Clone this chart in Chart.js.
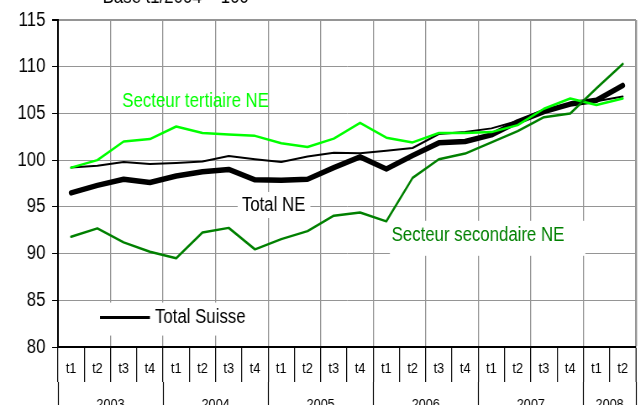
<!DOCTYPE html>
<html>
<head>
<meta charset="utf-8">
<script src="https://cdn.jsdelivr.net/npm/chart.js@4.4.0/dist/chart.umd.min.js"></script>
<style>
  html, body { margin: 0; padding: 0; background: #fff; overflow: hidden; }
  /* the original picture is squeezed horizontally, so draw wider and squeeze it back */
  #wrap { width: 767px; height: 405px; transform: scaleX(0.84); transform-origin: 0 0; }
</style>
</head>
<body>
<div id="wrap"><canvas id="emploiChart" width="767" height="405"></canvas></div>
<script>
// Quarters 2003 t1 .. 2008 t2
const quarters = ['t1', 't2', 't3', 't4', 't1', 't2', 't3', 't4', 't1', 't2', 't3', 't4',
                  't1', 't2', 't3', 't4', 't1', 't2', 't3', 't4', 't1', 't2'];
const years = ['2003', '2004', '2005', '2006', '2007', '2008'];
const quartersPerYear = [4, 4, 4, 4, 4, 2];

// Index values, base t1/2004 = 100
const totalNE = [96.5, 97.3, 97.95, 97.6, 98.3, 98.75, 99.0, 97.9, 97.85, 97.95, 99.2,
                 100.35, 99.05, 100.5, 101.85, 102.0, 102.7, 104.1, 105.2, 106.0, 106.4, 108.0];
const totalSuisse = [99.2, 99.4, 99.8, 99.6, 99.7, 99.85, 100.45, 100.1, 99.8, 100.4, 100.8,
                     100.75, 101.0, 101.3, 102.8, 103.0, 103.4, 104.2, 105.4, 106.0, 106.3, 106.8];
const tertiaireNE = [99.2, 100.0, 102.0, 102.25, 103.6, 102.9, 102.75, 102.6, 101.8, 101.4, 102.3,
                     104.0, 102.4, 101.9, 102.9, 102.9, 103.0, 103.75, 105.5, 106.6, 105.9, 106.6];
const secondaireNE = [91.8, 92.7, 91.2, 90.2, 89.5, 92.25, 92.75, 90.45, 91.55, 92.4, 94.05,
                      94.4, 93.45, 98.1, 100.1, 100.7, 101.9, 103.1, 104.6, 105.0, 107.7, 110.3];

const yTicks = [80, 85, 90, 95, 100, 105, 110, 115];
const titleText = 'Base t1/2004 = 100';

const FONT = '"Liberation Sans", Arial, sans-serif';
const GRID = '#959595';

// Year row: tick marks on year boundaries, labels centred on each year
const yearTicks = [];
let start = -0.5;
years.forEach((yr, k) => {
    yearTicks.push({ value: start, label: '' });
    yearTicks.push({ value: start + quartersPerYear[k] / 2, label: yr });
    start += quartersPerYear[k];
});
yearTicks.push({ value: start, label: '' });

// Text labels placed in data coordinates (category index, value)
// box = white background: [left, right, above, below] in px
const chartLabels = [
    { text: 'Secteur tertiaire NE', color: '#00ff00', at: [1.95, 106.3] },
    { text: 'Total NE', color: '#000000', at: [6.5, 95.2], box: [5, 6, 13, 13] },
    { text: 'Secteur secondaire NE', color: '#008000', at: [12.2, 91.9], box: [2, 25, 15, 20] }
];
const legendItem = { text: 'Total Suisse', from: 1.1, to: 3.0, value: 83.15, box: [8, 12, 15, 18] };

function whiteBox(ctx, px, py, w, box) {
    ctx.fillStyle = '#fff';
    ctx.fillRect(px - box[0], py - box[2], w + box[0] + box[1], box[2] + box[3]);
}

const labelPlugin = {
    id: 'chartLabels',
    beforeDatasetsDraw(chart) {
        const ctx = chart.ctx;
        const x = chart.scales.x;
        const y = chart.scales.y;
        ctx.save();
        ctx.font = '20px ' + FONT;
        ctx.textBaseline = 'middle';
        ctx.textAlign = 'left';

        chartLabels.forEach(l => {
            const px = x.getPixelForValue(l.at[0]);
            const py = y.getPixelForValue(l.at[1]);
            const w = ctx.measureText(l.text).width;
            if (l.box) whiteBox(ctx, px, py, w, l.box);
            ctx.fillStyle = l.color;
            ctx.fillText(l.text, px, py);
        });

        // legend for Total Suisse
        const lx1 = x.getPixelForValue(legendItem.from);
        const lx2 = x.getPixelForValue(legendItem.to);
        const ly = y.getPixelForValue(legendItem.value);
        const tw = ctx.measureText(legendItem.text).width;
        whiteBox(ctx, lx1, ly, lx2 - lx1 + 6 + tw, legendItem.box);
        ctx.strokeStyle = '#000';
        ctx.lineWidth = 3;
        ctx.beginPath();
        ctx.moveTo(lx1, ly);
        ctx.lineTo(lx2, ly);
        ctx.stroke();
        ctx.fillStyle = '#000';
        ctx.fillText(legendItem.text, lx2 + 6, ly);

        // title, mostly cut off at the top of the picture
        ctx.textBaseline = 'alphabetic';
        ctx.fillText(titleText, x.getPixelForValue(1.2), 3);
        ctx.restore();
    }
};

function lineSet(label, data, color, width) {
    return {
        label: label,
        data: data,
        borderColor: color,
        borderWidth: width,
        pointRadius: 0,
        tension: 0,
        borderJoinStyle: 'round',
        borderCapStyle: 'round',
        fill: false
    };
}

const ctx = document.getElementById('emploiChart').getContext('2d');
const emploiChart = new Chart(ctx, {
    type: 'line',
    data: {
        labels: quarters,
        datasets: [
            lineSet('Secteur secondaire NE', secondaireNE, '#008000', 2.5),
            lineSet('Secteur tertiaire NE', tertiaireNE, '#00ff00', 2.5),
            lineSet('Total Suisse', totalSuisse, '#000000', 2),
            lineSet('Total NE', totalNE, '#000000', 5.5)
        ]
    },
    options: {
        responsive: false,
        animation: false,
        devicePixelRatio: 1,
        layout: { autoPadding: false, padding: { top: 9, right: 10, bottom: 0, left: 0 } },
        plugins: {
            legend: { display: false },
            tooltip: { enabled: false }
        },
        scales: {
            x: {
                type: 'category',
                position: 'bottom',
                weight: 0,
                offset: true,
                grid: {
                    offset: true,
                    tickLength: 35,
                    tickColor: '#000',
                    tickWidth: 1.2,
                    color: c => {
                        const i = c.index === undefined ? quarters.length : c.index;
                        return (i > 0 && i % 2 === 0) ? GRID : 'rgba(0,0,0,0)';
                    },
                    lineWidth: c => (c.index === undefined ? 2.4 : 1.3)
                },
                border: { color: '#000', width: 2 },
                ticks: {
                    color: '#000',
                    font: { family: FONT, size: 15 },
                    padding: -22,
                    maxRotation: 0,
                    autoSkip: false
                },
                afterFit: axis => { axis.height = 35; }
            },
            year: {
                type: 'linear',
                position: 'bottom',
                weight: 1,
                bounds: 'data',
                min: -0.5,
                max: quarters.length - 0.5,
                afterBuildTicks: axis => {
                    axis.ticks = yearTicks.map(t => ({ value: t.value }));
                },
                grid: {
                    drawOnChartArea: false,
                    tickLength: 23,
                    tickWidth: 1.2,
                    tickColor: c => (c.tick && yearTicks[c.index].label === '' ? '#000' : 'rgba(0,0,0,0)')
                },
                border: { display: false },
                ticks: {
                    color: '#000',
                    font: { family: FONT, size: 15 },
                    padding: -9,
                    maxRotation: 0,
                    autoSkip: false,
                    callback: (v, i) => yearTicks[i].label
                },
                afterFit: axis => { axis.height = 23; }
            },
            y: {
                min: yTicks[0],
                max: yTicks[yTicks.length - 1],
                afterBuildTicks: axis => {
                    axis.ticks = yTicks.map(v => ({ value: v }));
                },
                grid: {
                    color: c => (c.tick && c.tick.value === yTicks[0] ? 'rgba(0,0,0,0)' : GRID),
                    lineWidth: c => (c.tick && c.tick.value === yTicks[yTicks.length - 1] ? 2 : 1),
                    tickLength: 7,
                    tickColor: '#000'
                },
                border: { color: '#000', width: 2 },
                ticks: {
                    color: '#000',
                    font: { family: FONT, size: 20 },
                    padding: 8
                },
                afterFit: axis => { axis.width = 69; }
            }
        }
    },
    plugins: [labelPlugin]
});
</script>
</body>
</html>
